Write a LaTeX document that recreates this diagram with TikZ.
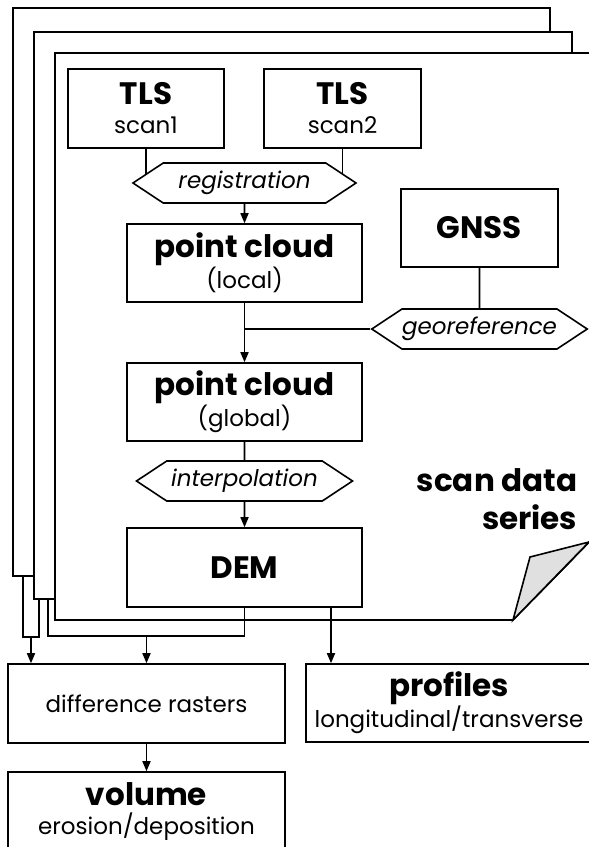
\documentclass[tikz,border=0pt]{standalone}
\usepackage{fontspec}
\setmainfont{Poppins}
\usetikzlibrary{arrows.meta,shapes.symbols}

\newcommand{\hd}[1]{{\fontsize{31}{29}\selectfont\bfseries #1}}

\begin{document}
\begin{tikzpicture}[x=1pt, y=-1pt, line width=1.6pt,
    box/.style={draw, fill=white, inner sep=0pt, align=center,
        font=\fontsize{23}{29}\selectfont},
    hexa/.style={draw, fill=white, shape=signal, signal to=east and west,
        signal pointer angle=67, inner sep=0pt, minimum height=40pt,
        font=\fontsize{23}{23}\selectfont\itshape},
    sheet/.style={draw, fill=white},
    arr/.style={-{Triangle[length=10pt,width=8pt]}}]
    \useasboundingbox (0,0) rectangle (589,847);
    \clip (0,0) rectangle (589,847);

    \draw[sheet] (13,8) rectangle (550,576);
    \draw[sheet] (34,32) -- (572,32) -- (572,559.5) -- (533.6,599) -- (34,599) -- cycle;
    \draw[sheet] (55,53) -- (600,53) -- (600,531) -- (513,620) -- (55,620) -- cycle;
    \filldraw[fill=black!12] (513,620) -- (530,557) -- (589,542) -- cycle;

    \coordinate (f1) at (23,576);
    \coordinate (f2a) at (39,599);
    \coordinate (f2b) at (48,599);

    \node[box, minimum width=156pt, minimum height=79pt] (tls1) at (146,108.5) {\hd{TLS}\\scan1};
    \node[box, minimum width=157pt, minimum height=79pt] (tls2) at (342.5,108.5) {\hd{TLS}\\scan2};

    \coordinate (regc) at (244.5,183);
    \draw (tls1.south) -- (tls1.south |- regc);
    \draw (tls2.south) -- (tls2.south |- regc);
    \node[hexa, minimum width=223pt] (reg) at (regc) {registration};

    \node[box, minimum width=235pt, minimum height=78pt] (pcl) at (244.5,263) {\hd{point cloud}\\(local)};
    \node[box, minimum width=157pt, minimum height=78pt] (gnss) at (479.5,228) {\hd{GNSS}};
    \node[hexa, minimum width=214pt] (geo) at (479.5,329) {georeference};
    \node[box, minimum width=235pt, minimum height=78pt] (pcg) at (244.5,402) {\hd{point cloud}\\(global)};
    \node[hexa, minimum width=216pt] (interp) at (244.5,481) {interpolation};
    \node[box, minimum width=235pt, minimum height=79pt] (dem) at (244.5,567.5) {\hd{DEM}};

    \node[font=\fontsize{31}{38}\selectfont\bfseries, align=right, anchor=north east,
        inner sep=0pt] (series) at (578,468) {scan data\\series};

    \node[box, minimum width=277pt, minimum height=79pt] (diff) at (146.5,703.5) {difference rasters};
    \node[box, minimum width=286pt, minimum height=78pt] (prof) at (449,703) {\hd{profiles}\\longitudinal/transverse};
    \node[box, minimum width=277pt, minimum height=79pt] (vol) at (146.5,811.5) {\hd{volume}\\erosion/deposition};

    \draw[arr] (reg) -- (pcl);
    \draw (gnss) -- (geo);
    \draw (geo.west) -- (geo.west -| pcl.south);
    \draw[arr] (pcl) -- (pcg);
    \draw (pcg) -- (interp);
    \draw[arr] (interp) -- (dem);

    \coordinate (tap) at ([xshift=86.5pt]dem.south);
    \draw[arr] (tap) -- (tap |- prof.north);

    \coordinate (j1) at (31,637);
    \draw (f1) |- (j1) -| (f2a);
    \draw[arr] (j1) -- (j1 |- diff.north);

    \coordinate (j2) at (146.5,636);
    \draw (f2b) |- (j2) -| (dem.south);
    \draw[arr] (j2) -- (diff.north);

    \draw[arr] (diff) -- (vol);
\end{tikzpicture}
\end{document}
